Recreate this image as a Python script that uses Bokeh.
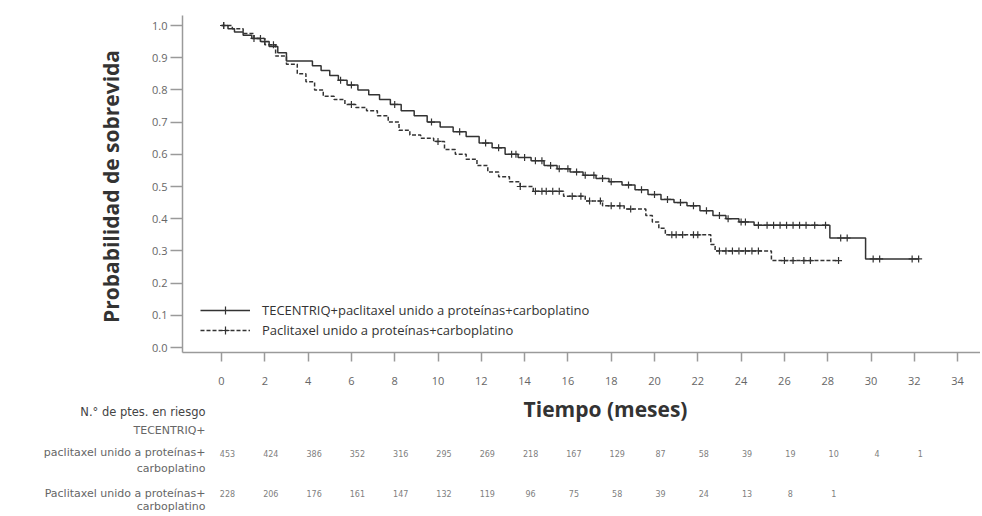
import math
from bokeh.plotting import figure
from bokeh.models import (Range1d, Legend, LegendItem, FixedTicker, NumeralTickFormatter,
                          ColumnDataSource)
from bokeh.core.properties import value
from bokeh.embed import file_html
from bokeh.resources import INLINE

# ---------------- data ----------------
tec_time = [0, 0.3, 0.6, 1.0, 1.4, 1.8, 2.2, 2.6, 3.0, 4.2, 4.6, 5.0, 5.4, 5.8, 6.3, 6.8,
            7.3, 7.8, 8.3, 8.9, 9.5, 10.1, 10.7, 11.3, 11.9, 12.5, 13.1, 13.7, 14.3, 14.9,
            15.5, 16.1, 16.7, 17.3, 17.9, 18.5, 19.1, 19.7, 20.3, 20.9, 21.5, 22.1, 22.7,
            23.3, 23.9, 24.6, 28.1, 29.75, 32.2]
tec_surv = [1.0, 0.99, 0.98, 0.97, 0.96, 0.95, 0.935, 0.915, 0.89, 0.875, 0.86, 0.845, 0.83,
            0.815, 0.80, 0.785, 0.77, 0.755, 0.735, 0.72, 0.70, 0.685, 0.67, 0.655, 0.635,
            0.62, 0.60, 0.59, 0.58, 0.565, 0.555, 0.545, 0.535, 0.525, 0.515, 0.505, 0.49,
            0.475, 0.46, 0.45, 0.44, 0.425, 0.41, 0.40, 0.39, 0.38, 0.34, 0.275, 0.275]
tec_cens = [0.1, 1.5, 2.0, 5.5, 6.0, 8.0, 9.7, 11.0, 12.2, 12.8, 13.4, 13.6, 14.0, 14.5, 14.8,
            15.2, 15.6, 16.0, 16.4, 16.8, 17.2, 17.6, 18.0, 18.8, 19.4, 20.0, 20.6, 21.2, 21.8,
            22.4, 23.0, 23.4, 24.0, 24.2, 24.8, 25.2, 25.5, 25.8, 26.1, 26.4, 26.7, 27.0, 27.4,
            27.9, 28.6, 28.9, 30.1, 30.4, 31.9, 32.2]

ctl_time = [0, 0.5, 1.0, 1.5, 2.0, 2.5, 3.0, 3.5, 3.9, 4.3, 4.7, 5.2, 5.7, 6.2, 6.7, 7.2, 7.7,
            8.2, 8.7, 9.2, 9.8, 10.3, 10.8, 11.3, 11.8, 12.3, 12.8, 13.3, 13.8, 14.4, 15.8,
            16.8, 17.6, 18.6, 19.6, 19.9, 20.2, 20.5, 22.6, 22.8, 25.4, 28.5]
ctl_surv = [1.0, 0.99, 0.975, 0.96, 0.94, 0.905, 0.88, 0.85, 0.825, 0.80, 0.78, 0.77, 0.755,
            0.745, 0.735, 0.72, 0.70, 0.675, 0.66, 0.65, 0.64, 0.615, 0.60, 0.585, 0.565,
            0.545, 0.53, 0.515, 0.50, 0.485, 0.47, 0.455, 0.44, 0.43, 0.41, 0.39, 0.37, 0.35,
            0.32, 0.30, 0.27, 0.27]
ctl_cens = [0.1, 1.8, 2.4, 6.0, 10.0, 13.8, 14.5, 14.8, 15.0, 15.3, 15.6, 16.2, 16.6, 17.0,
            17.5, 18.0, 18.4, 18.9, 20.8, 21.0, 21.3, 21.8, 22.0, 23.0, 23.3, 23.6, 23.9, 24.2,
            24.5, 24.8, 26.0, 26.4, 26.9, 27.2, 28.5]

risk_times = [0, 2, 4, 6, 8, 10, 12, 14, 16, 18, 20, 22, 24, 26, 28, 30, 32]
risk_tec = [453, 424, 386, 352, 316, 295, 269, 218, 167, 129, 87, 58, 39, 19, 10, 4, 1]
risk_ctl = [228, 206, 176, 161, 147, 132, 119, 96, 75, 58, 39, 24, 13, 8, 1]

x_ticks = list(range(0, 35, 2))
y_ticks = [0.0, 0.1, 0.2, 0.3, 0.4, 0.5, 0.6, 0.7, 0.8, 0.9, 1.0]

x_title = "Tiempo (meses)"
y_title = "Probabilidad de sobrevida"
legend_tec = "TECENTRIQ+paclitaxel unido a proteínas+carboplatino"
legend_ctl = "Paclitaxel unido a proteínas+carboplatino"
risk_title = "N.° de ptes. en riesgo"
risk_labels = ["TECENTRIQ+", "paclitaxel unido a proteínas+", "carboplatino",
               "Paclitaxel unido a proteínas+", "carboplatino"]


def surv_at(times, survs, t):
    s = survs[0]
    for ti, si in zip(times, survs):
        if ti <= t:
            s = si
    return s


FONT = "Open Sans"
LINE = "#333333"
AXIS = "#9a9a9a"

# ---------------- geometry (pixels) ----------------
W, H = 980, 514
ZERO_X, PX_MONTH = 221, 21.65      # pixel column of month 0, pixels per month
ZERO_Y, PX_UNIT = 347, 322.0       # pixel row of probability 0, pixels per unit
AX_LEFT, AX_TOP, AX_BOTTOM = 182, 15, 352


def x_at(px):
    return (px - ZERO_X) / PX_MONTH


def y_at(py):
    return (ZERO_Y - py) / PX_UNIT


p = figure(width=W, height=H,
           x_range=Range1d(x_at(0), x_at(W)), y_range=Range1d(y_at(H), y_at(0)),
           output_backend="svg", toolbar_location=None, min_border=0)
p.outline_line_color = None
p.xgrid.visible = False
p.ygrid.visible = False

r1 = p.step(tec_time, tec_surv, mode="after", line_color=LINE, line_width=1.5)
r2 = p.step(ctl_time, ctl_surv, mode="after", line_color=LINE, line_width=1.5, line_dash="4 2")
c1 = p.scatter(tec_cens, [surv_at(tec_time, tec_surv, t) for t in tec_cens], marker="cross",
               size=7, line_color=LINE, line_width=1.2)
c2 = p.scatter(ctl_cens, [surv_at(ctl_time, ctl_surv, t) for t in ctl_cens], marker="cross",
               size=7, line_color=LINE, line_width=1.2)

# axes pinned inside the frame
xa, ya = p.xaxis[0], p.yaxis[0]
xa.fixed_location = y_at(AX_BOTTOM)
xa.bounds = (x_at(AX_LEFT), x_at(W))
ya.fixed_location = x_at(AX_LEFT)
ya.bounds = (y_at(AX_BOTTOM), y_at(AX_TOP))
for ax in (xa, ya):
    ax.axis_line_color = AXIS
    ax.axis_line_width = 1.5
    ax.major_tick_line_color = AXIS
    ax.major_tick_line_width = 1.5
    ax.major_tick_in = 0
    ax.minor_tick_line_color = None
    ax.major_label_text_font = FONT
    ax.major_label_text_font_size = "11px"
    ax.major_label_text_color = "#666666"

xa.ticker = FixedTicker(ticks=x_ticks)
xa.major_tick_out = 9
xa.major_label_standoff = 15

ya.ticker = FixedTicker(ticks=y_ticks)
ya.formatter = NumeralTickFormatter(format="0.0")
ya.major_tick_out = 12
ya.major_label_standoff = 3

# axis titles
p.text(x=[x_at(110)], y=[y_at(186)], text=[y_title], angle=math.pi / 2,
       text_font=value(FONT), text_font_size="21px", text_font_style="bold",
       text_color="#333333", text_align="center", text_baseline="middle")
p.text(x=[x_at(605)], y=[y_at(408)], text=[x_title],
       text_font=value(FONT), text_font_size="21px", text_font_style="bold",
       text_color="#333333", text_align="center", text_baseline="middle")

legend = Legend(items=[LegendItem(label=legend_tec, renderers=[r1, c1]),
                       LegendItem(label=legend_ctl, renderers=[r2, c2])],
                location=(200, H - 340), glyph_width=50, glyph_height=20, label_height=20,
                label_standoff=12, spacing=0, padding=0, margin=0,
                border_line_color=None, background_fill_alpha=0,
                label_text_font=FONT, label_text_font_size="13px",
                label_text_color="#333333")
p.add_layout(legend)

# risk table: row labels
p.text(x=[x_at(205)], y=[y_at(411)], text=[risk_title], text_font=value("DejaVu Sans"),
       text_font_size="11.5px", text_color="#444444", text_align="right",
       text_baseline="middle")
p.text(x=[x_at(205)] * len(risk_labels), y=[y_at(v) for v in [430, 452, 468, 493, 506]],
       text=risk_labels, text_font=value("DejaVu Sans"), text_font_size="11px",
       text_color="#666666", text_align="right", text_baseline="middle")

# risk table: numbers at risk
src_tec = ColumnDataSource(dict(x=risk_times[:len(risk_tec)],
                                y=[y_at(453)] * len(risk_tec),
                                n=[str(v) for v in risk_tec]))
src_ctl = ColumnDataSource(dict(x=risk_times[:len(risk_ctl)],
                                y=[y_at(493)] * len(risk_ctl),
                                n=[str(v) for v in risk_ctl]))
for src in (src_tec, src_ctl):
    p.text(x="x", y="y", text="n", source=src, text_font=value("DejaVu Sans"),
           text_font_size="8px", text_color="#808080", text_align="center",
           text_baseline="middle", x_offset=6)

open("out.html", "w").write(file_html(p, INLINE))
